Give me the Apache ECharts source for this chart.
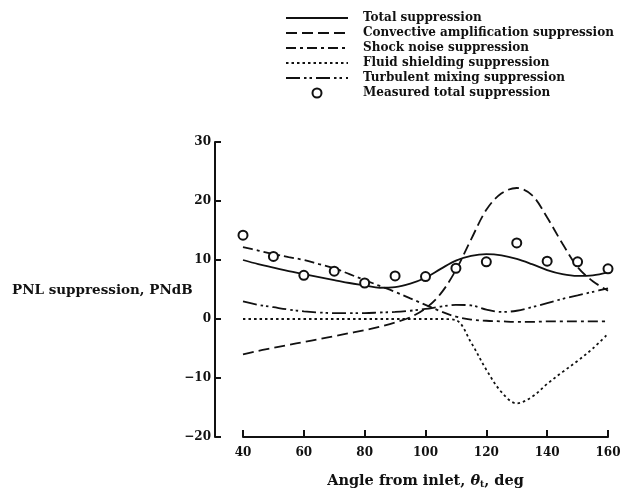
<!DOCTYPE html>
<html><head><meta charset="utf-8">
<script src="https://cdn.jsdelivr.net/npm/echarts@6/dist/echarts.min.js"></script>
<style>html,body{margin:0;padding:0;background:#fff}#c{width:628px;height:493px}</style>
</head><body><div id="c"></div>
<script>
// Data
const angleX = [40,45,50,55,60,65,70,75,80,85,90,95,100,105,110,115,120,125,130,135,140,145,150,155,160];
const totalSupp =      [10.0,9.3,8.7,8.1,7.6,7.1,6.6,6.1,5.7,5.3,5.4,6.0,7.0,8.5,9.9,10.7,11.0,10.8,10.2,9.3,8.3,7.6,7.3,7.4,7.9];
const convectiveSupp = [-6.0,-5.4,-4.9,-4.4,-3.9,-3.4,-2.9,-2.4,-1.9,-1.3,-0.6,0.3,1.8,4.3,8.3,13.5,18.5,21.3,22.2,21.0,17.2,12.8,8.8,6.4,4.8];
const shockSupp =      [12.2,11.6,11.0,10.5,10.0,9.3,8.6,7.6,6.6,5.6,4.6,3.5,2.4,1.3,0.4,-0.1,-0.3,-0.4,-0.5,-0.5,-0.4,-0.4,-0.4,-0.4,-0.4];
const fluidSupp =      [0,0,0,0,0,0,0,0,0,0,0,0,0,0,-0.2,-4.0,-8.6,-12.4,-14.3,-13.2,-11.0,-9.0,-7.1,-5.0,-2.5];
const turbulentSupp =  [3.0,2.4,2.0,1.6,1.3,1.1,1.0,1.0,1.0,1.1,1.2,1.4,1.7,2.1,2.4,2.3,1.6,1.2,1.4,2.0,2.7,3.4,4.0,4.6,5.2];
const measuredX = [40,50,60,70,80,90,100,110,120,130,140,150,160];
const measuredY = [14.2,10.6,7.4,8.1,6.1,7.3,7.2,8.6,9.7,12.9,9.8,9.7,8.5];
const xTicks = [40,60,80,100,120,140,160];
const yTicks = [-20,-10,0,10,20,30];

const pair = (xs, ys) => xs.map((x,i)=>[x, ys[i]]);
const FONT = 'DejaVu Serif';
const BLK = '#111';

function lineSeries(name, ys, type){
  return {name, type:'line', data: pair(angleX, ys), smooth:0.35, symbol:'none',
    lineStyle:{color:BLK, width:1.8, type}, itemStyle:{color:BLK, opacity:0}};
}

const chart = echarts.init(document.getElementById('c'), null, {renderer:'canvas'});
chart.setOption({
  animation:false,
  backgroundColor:'#fff',
  grid:{left:243, right:20, top:142, bottom:56, outerBoundsMode:'none', containLabel:false},
  legend:{
    orient:'vertical', left:280, top:6, itemWidth:62, itemHeight:9, itemGap:1,
    textStyle:{fontFamily:FONT, fontSize:12, fontWeight:'bold', color:BLK, lineHeight:14, padding:[0,0,0,10]},
    data:[
      {name:'Total suppression'},
      {name:'Convective amplification suppression'},
      {name:'Shock noise suppression'},
      {name:'Fluid shielding suppression'},
      {name:'Turbulent mixing suppression'},
      {name:'Measured total suppression', icon:'emptyCircle'}
    ]
  },
  xAxis:{
    type:'value', min:40, max:160, interval:20,
    axisLine:{onZero:false, lineStyle:{color:BLK, width:2}},
    axisTick:{inside:true, length:7, lineStyle:{color:BLK, width:2}},
    splitLine:{show:false},
    axisLabel:{fontFamily:FONT, fontSize:12, fontWeight:'bold', color:BLK, margin:10},
    name:'{a|Angle from inlet, }{i|θ}{s|t}{a|, deg}', nameLocation:'middle', nameGap:36,
    nameTextStyle:{rich:{
      a:{fontFamily:FONT, fontSize:14.5, fontWeight:'bold', color:BLK},
      i:{fontFamily:FONT, fontSize:14.5, fontWeight:'bold', fontStyle:'italic', color:BLK},
      s:{fontFamily:FONT, fontSize:9, fontWeight:'bold', color:BLK, verticalAlign:'bottom', padding:[7,0,0,0]}
    }}
  },
  yAxis:{
    type:'value', min:-20, max:30, interval:10, offset:28,
    axisLine:{show:true, lineStyle:{color:BLK, width:2}},
    axisTick:{show:true, inside:true, length:6, lineStyle:{color:BLK, width:2}},
    splitLine:{show:false},
    axisLabel:{fontFamily:FONT, fontSize:12, fontWeight:'bold', color:BLK, margin:4,
      formatter: v => String(v).replace('-', '\u2212')}
  },
  graphic:[{
    type:'text', left:12, top:283,
    style:{text:'PNL suppression, PNdB', font:'bold 13.5px "DejaVu Serif"', fill:BLK}
  }],
  series:[
    lineSeries('Total suppression', totalSupp, 'solid'),
    lineSeries('Convective amplification suppression', convectiveSupp, [11,5]),
    lineSeries('Shock noise suppression', shockSupp, [10,4,3,4]),
    lineSeries('Fluid shielding suppression', fluidSupp, [2.5,3]),
    lineSeries('Turbulent mixing suppression', turbulentSupp, [14,4,2.5,3,2.5,4]),
    {name:'Measured total suppression', type:'scatter', data: pair(measuredX, measuredY),
      symbol:'emptyCircle', symbolSize:9, itemStyle:{color:BLK, borderColor:BLK, borderWidth:2, opacity:1}, z:5}
  ]
});
</script></body></html>
